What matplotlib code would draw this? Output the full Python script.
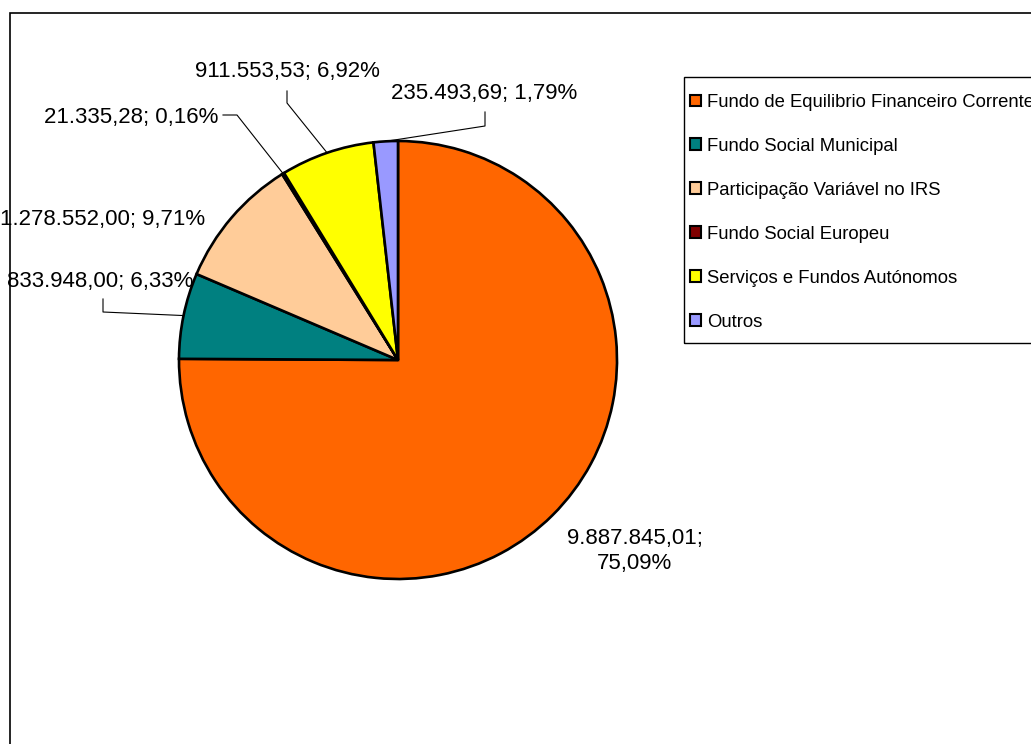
import numpy as np
import matplotlib.pyplot as plt
from matplotlib.patches import Rectangle

plt.rcParams['font.family'] = ['Liberation Sans', 'DejaVu Sans']

categories = ['Fundo de Equilibrio Financeiro Corrente', 'Fundo Social Municipal',
              'Participação Variável no IRS', 'Fundo Social Europeu',
              'Serviços e Fundos Autónomos', 'Outros']
values = [9887845.01, 833948.00, 1278552.00, 21335.28, 911553.53, 235493.69]
colors = ['#FF6600', '#008080', '#FFCC99', '#800000', '#FFFF00', '#9999FF']

W, H = 1031, 744


def img(x, y):
    # image pixel coords (y down) -> data coords (y up)
    return x, H - y


def pt(v):
    s = f'{v:,.2f}'
    return s.replace(',', '#').replace('.', ',').replace('#', '.')


fig = plt.figure(figsize=(W / 100, H / 100), dpi=100)
ax = fig.add_axes([0, 0, 1, 1])

# outer chart frame (runs off the right and bottom edges)
ax.add_patch(Rectangle(img(9.5, 760), 1100, 760 - 12.5, fill=False, lw=1.2, ec='black'))

cx, cy = img(398, 360)
radius = 219
wedges, _ = ax.pie(values, colors=colors, startangle=90, counterclock=False,
                   center=(cx, cy), radius=radius, frame=True,
                   wedgeprops=dict(edgecolor='black', linewidth=1.9))
ax.set_xlim(0, W)
ax.set_ylim(0, H)
ax.axis('off')

total = sum(values)
texts = [f'{pt(v)}; {pt(v / total * 100)}%' for v in values]

# label placement: (x, y, ha, elbow points in image coords)
layout = [
    (635, 551, 'center', None),
    (193, 282, 'right', [(103, 299), (103, 312)]),
    (205, 219, 'right', None),
    (218, 117, 'right', [(223, 115), (237, 115)]),
    (287, 72, 'center', [(287, 91), (287, 103)]),
    (484, 94, 'center', [(485, 112), (485, 126)]),
]

for i, (w, txt, (lx, ly, ha, elbow)) in enumerate(zip(wedges, texts, layout)):
    if i == 0:
        txt = txt.replace('; ', ';\n')
    x, y = img(lx, ly)
    ax.text(x, y, txt, ha=ha, va='center', fontsize=16, linespacing=1.2,
            multialignment='center')
    if elbow:
        ang = np.deg2rad((w.theta1 + w.theta2) / 2)
        ex, ey = cx + radius * np.cos(ang), cy + radius * np.sin(ang)
        pts = [img(*p) for p in elbow] + [(ex, ey)]
        ax.plot([p[0] for p in pts], [p[1] for p in pts], color='black', lw=0.8)

# legend frame
ax.add_patch(Rectangle(img(684, 343), 500, 343 - 77, fill=False, lw=1.0, ec='black'))
handles = [Rectangle((0, 0), 1, 1, fc=c, ec='black', lw=1.5) for c in colors]
ax.legend(handles, categories, loc='upper left', bbox_to_anchor=(690 / W, 1 - 94 / H),
          frameon=False, fontsize=13.3, borderpad=0, borderaxespad=0,
          handlelength=0.62, handleheight=0.62, handletextpad=0.3,
          labelspacing=1.46)

fig.savefig('out.png', dpi=100)
